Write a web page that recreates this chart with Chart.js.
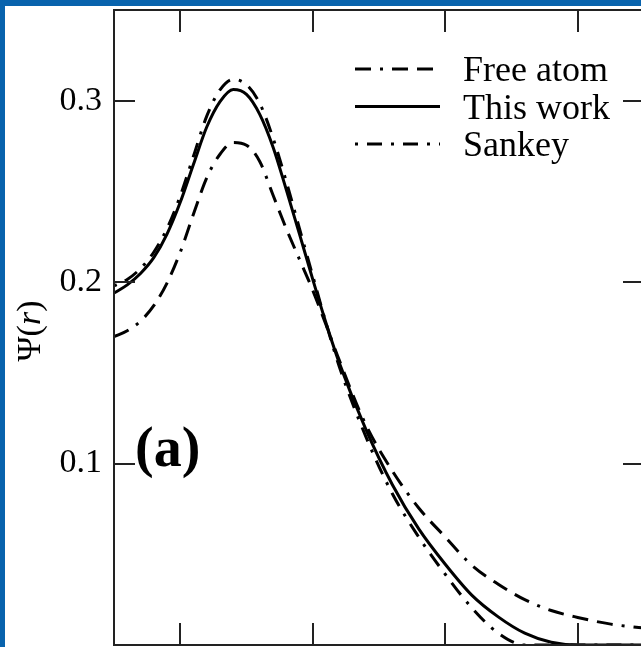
<!DOCTYPE html>
<html>
<head>
<meta charset="utf-8">
<script src="https://cdn.jsdelivr.net/npm/chart.js@4/dist/chart.umd.min.js"></script>
<style>
  html, body { margin: 0; padding: 0; background: #fff; overflow: hidden; }
  #wrap { position: absolute; left: 0; top: 0; width: 700px; height: 700px; }
  .edge { position: absolute; background: #0863ad; }
</style>
</head>
<body>
<div id="wrap"><canvas id="psiChart" width="700" height="700"></canvas></div>
<div class="edge" style="left:0;top:0;width:641px;height:6px"></div>
<div class="edge" style="left:0;top:0;width:5px;height:647px"></div>
<script>
// values
const radius   = [0.5, 0.6, 0.7, 0.8, 0.9, 1.0, 1.1, 1.2, 1.3, 1.4, 1.5, 1.6, 1.7, 1.8, 1.9, 2.0, 2.1, 2.2, 2.4, 2.6, 2.8, 3.0, 3.2, 3.4, 3.6, 3.8, 4.0, 4.25, 4.5];
const freeAtom = [0.170, 0.1732, 0.1785, 0.187, 0.1995, 0.2165, 0.2375, 0.2575, 0.2705, 0.277, 0.2755, 0.2665, 0.248, 0.2295, 0.2125, 0.1955, 0.1765, 0.157, 0.1215, 0.096, 0.0755, 0.0595, 0.044, 0.0335, 0.025, 0.019, 0.0152, 0.0115, 0.0093];
const thisWork = [0.194, 0.1985, 0.2048, 0.2135, 0.2265, 0.244, 0.265, 0.2855, 0.2995, 0.3062, 0.3035, 0.2925, 0.2745, 0.251, 0.2265, 0.2015, 0.1775, 0.1555, 0.119, 0.0885, 0.064, 0.0445, 0.0275, 0.0155, 0.0065, 0.0015, 0, 0, 0];
const sankey   = [0.198, 0.2015, 0.2075, 0.2165, 0.2295, 0.2475, 0.2695, 0.2915, 0.306, 0.3118, 0.3088, 0.2985, 0.2795, 0.2555, 0.2295, 0.2035, 0.1775, 0.1535, 0.115, 0.0835, 0.0595, 0.039, 0.0205, 0.0065, 0, 0, 0, 0, 0];
const seriesNames = ['Free atom', 'This work', 'Sankey'];
const xTicks = [1, 2, 3, 4];
const yTicks = [0.1, 0.2, 0.3];

const serif = '"Liberation Serif", "Times New Roman", serif';
const pts = arr => arr.map((v, i) => ({ x: radius[i], y: v }));

// frame, inward ticks, legend, axis title and panel label
const decorations = {
  id: 'decorations',
  afterDatasetsDraw(chart) {
    const { ctx, chartArea: a, scales: { x, y } } = chart;
    ctx.save();
    ctx.strokeStyle = '#222';
    ctx.lineWidth = 2;
    ctx.setLineDash([]);
    ctx.strokeRect(a.left, a.top, a.right - a.left, a.bottom - a.top);
    ctx.beginPath();
    xTicks.forEach(v => {
      const px = Math.round(x.getPixelForValue(v));
      ctx.moveTo(px, a.bottom); ctx.lineTo(px, a.bottom - 22);
      ctx.moveTo(px, a.top); ctx.lineTo(px, a.top + 22);
    });
    yTicks.forEach(v => {
      const py = Math.round(y.getPixelForValue(v));
      ctx.moveTo(a.left, py); ctx.lineTo(a.left + 21, py);
      ctx.moveTo(a.right, py); ctx.lineTo(a.right - 21, py);
    });
    ctx.stroke();

    // legend
    ctx.font = '36px ' + serif;
    ctx.fillStyle = '#000';
    ctx.textBaseline = 'middle';
    chart.data.datasets.forEach((ds, i) => {
      const ly = 69 + i * 37.5;
      ctx.strokeStyle = '#000';
      ctx.lineWidth = ds.borderWidth;
      ctx.setLineDash(ds.borderDash || []);
      ctx.beginPath();
      ctx.moveTo(355, ly); ctx.lineTo(440, ly);
      ctx.stroke();
      ctx.fillText(ds.label, 463, ly + 3);
    });
    ctx.setLineDash([]);

    // y axis title: Ψ(r) with italic r
    ctx.save();
    ctx.translate(31, 331);
    ctx.rotate(-Math.PI / 2);
    ctx.textBaseline = 'middle';
    const parts = [['Ψ(', '34px '], ['r', 'italic 34px '], [')', '34px ']];
    let total = 0;
    parts.forEach(p => { ctx.font = p[1] + serif; total += ctx.measureText(p[0]).width; });
    let cx = -total / 2;
    parts.forEach(p => {
      ctx.font = p[1] + serif;
      ctx.fillText(p[0], cx, 0);
      cx += ctx.measureText(p[0]).width;
    });
    ctx.restore();

    // panel label
    ctx.font = 'bold 56px ' + serif;
    ctx.textBaseline = 'alphabetic';
    ctx.fillText('(a)', 135, 466);
    ctx.restore();
  }
};

const ctx = document.getElementById('psiChart').getContext('2d');

new Chart(ctx, {
  type: 'line',
  data: {
    datasets: [
      {
        label: seriesNames[0],
        data: pts(freeAtom),
        borderColor: '#000',
        borderWidth: 3,
        borderDash: [16, 9, 3, 9, 16, 9, 16, 9],
      },
      {
        label: seriesNames[1],
        data: pts(thisWork),
        borderColor: '#000',
        borderWidth: 3,
      },
      {
        label: seriesNames[2],
        data: pts(sankey),
        borderColor: '#000',
        borderWidth: 3,
        borderDash: [3, 9, 15, 9],
      },
    ],
  },
  options: {
    responsive: false,
    animation: false,
    devicePixelRatio: 1,
    layout: { padding: { top: 10, right: 56, left: 0, bottom: 0 } },
    elements: {
      point: { radius: 0 },
      line: { cubicInterpolationMode: 'monotone', fill: false },
    },
    plugins: {
      legend: { display: false },
      tooltip: { enabled: false },
    },
    scales: {
      x: {
        type: 'linear',
        min: 0.5,
        max: 4.5,
        grid: { display: false },
        border: { display: false },
        ticks: { display: false },
        afterFit: s => { s.height = 55; s.paddingLeft = 0; s.paddingRight = 0; },
      },
      y: {
        type: 'linear',
        min: 0,
        max: 0.35,
        grid: { display: false, drawTicks: false },
        border: { display: false },
        ticks: {
          stepSize: 0.1,
          padding: 12,
          color: '#000',
          font: { family: serif, size: 34 },
          callback: v => yTicks.some(t => Math.abs(t - v) < 1e-9) ? v.toFixed(1) : '',
        },
        afterFit: s => { s.width = 114; s.paddingTop = 0; s.paddingBottom = 0; },
      },
    },
  },
  plugins: [decorations],
});
</script>
</body>
</html>
